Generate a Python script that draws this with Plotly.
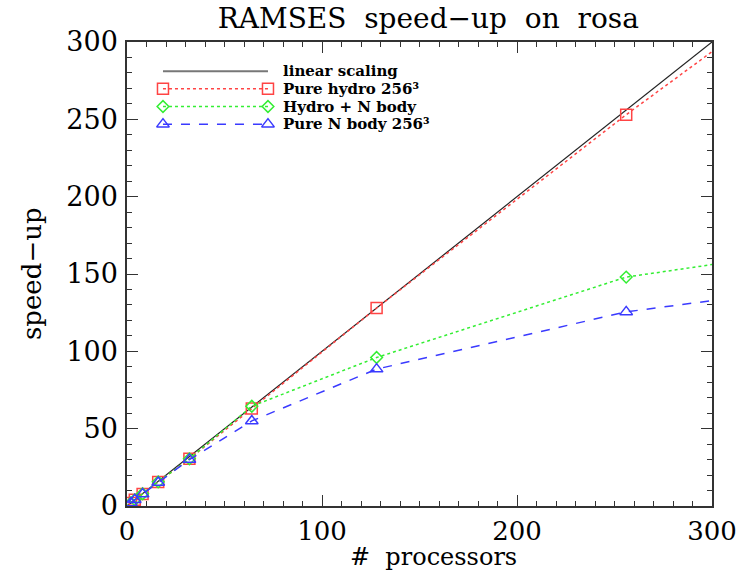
import plotly.graph_objects as go

# ---- data ----
procs = [2, 4, 8, 16, 32, 64, 128, 256, 512]
linear_x = [0, 512]
linear_y = [0, 512]
hydro = [2, 4, 7.8, 15.5, 30.5, 63, 128, 253, 490]
hydro_nbody = [2, 4, 7.9, 15.6, 30.5, 64.5, 96, 148, 195]
nbody = [2, 4, 7.7, 15.2, 30, 55, 88.5, 125.5, 168]

names = ["linear scaling", "Pure hydro 256\u00b3", "Hydro + N body", "Pure N body 256\u00b3"]
colors = ["#222222", "#ff4444", "#33ee33", "#3a3aff"]
dashes = ["solid", "dot", "dot", "dash"]
symbols = [None, "square-open", "diamond-open", "triangle-up-open"]
msizes = [0, 11, 9, 11]

FONT = "DejaVu Serif"

fig = go.Figure()

fig.add_trace(go.Scatter(x=linear_x, y=linear_y, mode="lines",
                         line=dict(color=colors[0], width=1.2), showlegend=False))
series = [hydro, hydro_nbody, nbody]
for i, s in enumerate(series, start=1):
    fig.add_trace(go.Scatter(
        x=procs, y=s, mode="lines+markers",
        line=dict(color=colors[i], width=1.5, dash=dashes[i]),
        marker=dict(symbol=symbols[i], size=msizes[i], color=colors[i],
                    line=dict(width=1.5, color=colors[i])),
        showlegend=False))

# ---- custom legend on an overlay axis (0..1) ----
leg_x0, leg_x1, text_x = 0.0615, 0.241, 0.264
leg_rows = [0.937, 0.899, 0.861, 0.823]
for i, name in enumerate(names):
    yv = leg_rows[i]
    if i == 0:
        fig.add_trace(go.Scatter(x=[leg_x0, leg_x1], y=[yv, yv], mode="lines",
                                 xaxis="x2", yaxis="y2",
                                 line=dict(color="#777777", width=1.8), showlegend=False))
    else:
        fig.add_trace(go.Scatter(x=[leg_x0, leg_x1], y=[yv, yv], mode="lines+markers",
                                 xaxis="x2", yaxis="y2",
                                 line=dict(color=colors[i], width=1.5, dash=dashes[i]),
                                 marker=dict(symbol=symbols[i], size=msizes[i], color=colors[i],
                                             line=dict(width=1.5, color=colors[i])),
                                 showlegend=False))
    fig.add_annotation(x=text_x, y=yv, xref="x2", yref="y2", text="<b>" + name + "</b>",
                       showarrow=False, xanchor="left", yanchor="middle",
                       font=dict(family=FONT, size=15, color="black"))

# axis titles as annotations (fixed positions)
fig.add_annotation(x=0.524, y=0.0, xref="paper", yref="paper", yshift=-51,
                   text="#\u00a0 processors", showarrow=False, xanchor="center", yanchor="middle",
                   font=dict(family=FONT, size=24, color="black"))
fig.add_annotation(x=0.0, y=0.5, xref="paper", yref="paper", xshift=-95,
                   text="speed\u2212up", textangle=-90, showarrow=False,
                   xanchor="center", yanchor="middle",
                   font=dict(family=FONT, size=26, color="black"))

axis_common = dict(showgrid=False, zeroline=False, showline=True, linecolor="#333333",
                   linewidth=1.5, mirror="allticks", ticks="inside", tickcolor="#333333",
                   tickwidth=1.2, ticklen=11, automargin=False)

fig.update_layout(
    width=750, height=572,
    margin=dict(l=127, r=38, t=42, b=66),
    paper_bgcolor="white", plot_bgcolor="white",
    title=dict(text="RAMSES\u00a0 speed\u2212up\u00a0 on\u00a0 rosa", x=0.571, xanchor="center",
               y=0.968, yanchor="middle", automargin=False,
               font=dict(family=FONT, size=28, color="black")),
    xaxis=dict(range=[0, 300], tick0=0, dtick=100, ticklabelstandoff=1,
               tickfont=dict(family=FONT, size=26, color="black"),
               minor=dict(dtick=10, ticks="inside", ticklen=5, tickcolor="#333333", tickwidth=1.2),
               **axis_common),
    yaxis=dict(range=[0, 300], tick0=0, dtick=50, ticklabelstandoff=2,
               tickfont=dict(family=FONT, size=27, color="black"),
               minor=dict(dtick=10, ticks="inside", ticklen=5, tickcolor="#333333", tickwidth=1.2),
               **axis_common),
    xaxis2=dict(range=[0, 1], overlaying="x", visible=False, fixedrange=True),
    yaxis2=dict(range=[0, 1], overlaying="y", visible=False, fixedrange=True),
    showlegend=False,
)

fig.write_html("out.html")
